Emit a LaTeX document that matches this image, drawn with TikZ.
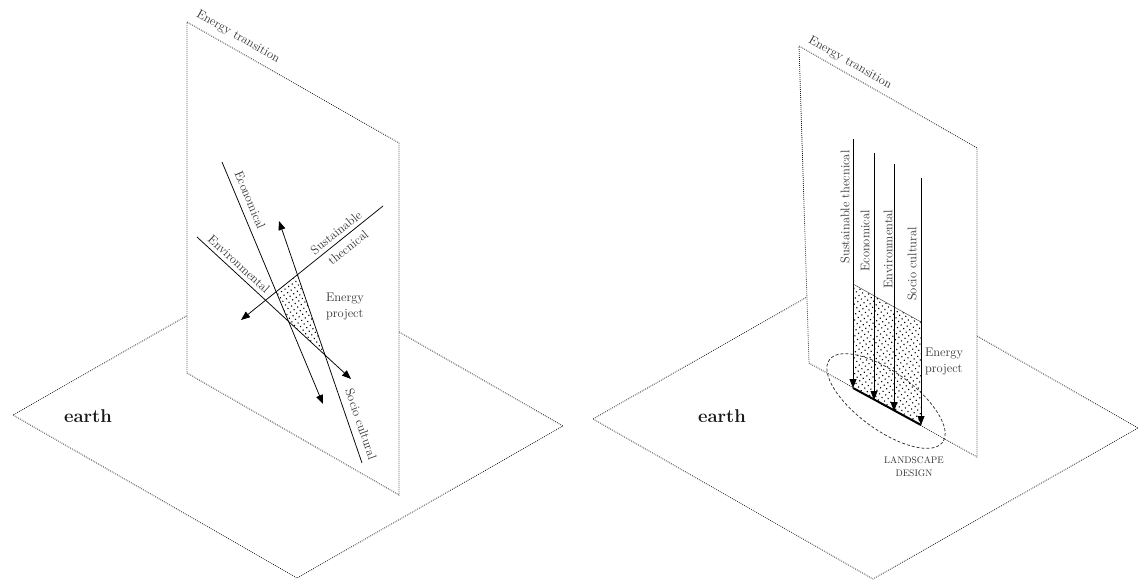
\documentclass[tikz,border=0pt]{standalone}
\usetikzlibrary{arrows.meta,patterns.meta}
\begin{document}
\begin{tikzpicture}[x=1pt,y=-1pt,
  dotline/.style={draw=black!90, line width=0.8pt, dash pattern=on 0.8pt off 1.2pt},
  axline/.style={draw=black, line width=0.75pt},
  arr/.style={axline, -{Triangle[length=9pt,width=7pt]}},
  lbl/.style={font=\fontsize{12.5}{16}\selectfont, text=black!80, inner sep=1pt},
  earthlbl/.style={font=\fontsize{18.5}{20}\selectfont\bfseries, text=black!90, inner sep=0pt},
  dotfill/.style={pattern={Dots[radius=0.8pt,distance=4.4pt,angle=35]}, pattern color=black},
]
\useasboundingbox (0,0) rectangle (1139,580);

% ===== LEFT DIAGRAM =====
\coordinate (gl1) at (13,415);
\coordinate (gl2) at (297,578);
\coordinate (gl3) at (563,426);
\coordinate (gl4) at (279,263);
\draw[dotline] (gl1) -- (gl2) -- (gl3) -- (gl4) -- cycle;

\coordinate (pl1) at (187,22);
\coordinate (pl2) at (399,143);
\coordinate (pl3) at (399,495);
\coordinate (pl4) at (187,373);
\draw[dotline, fill=white] (pl1) -- (pl2) -- (pl3) -- (pl4) -- cycle;

\node[lbl, rotate=-29.7] (etl) at (238,37) {Energy transition};
\node[earthlbl] (earthl) at (88,416) {earth};

\coordinate (e1) at (222,162); \coordinate (e2) at (323,404);
\coordinate (s1) at (362,463); \coordinate (s2) at (279,221);
\coordinate (t1) at (383,206); \coordinate (t2) at (241,320);
\coordinate (v1) at (197,237); \coordinate (v2) at (351,379);

\coordinate (q1) at (intersection of e1--e2 and t1--t2);
\coordinate (q2) at (intersection of s1--s2 and t1--t2);
\coordinate (q3) at (intersection of s1--s2 and v1--v2);
\coordinate (q4) at (intersection of e1--e2 and v1--v2);
\fill[dotfill] (q1) -- (q2) -- (q3) -- (q4) -- cycle;

\draw[arr] (e1) -- (e2);
\draw[arr] (s1) -- (s2);
\draw[arr] (t1) -- (t2);
\draw[arr] (v1) -- (v2);

\node[lbl, rotate=-67.4] (econl) at (250,200) {Economical};
\node[lbl, rotate=-71.1] (socl) at (361,424) {Socio cultural};
\node[lbl, rotate=-42.7] (envl) at (239,264) {Environmental};
\node[lbl, rotate=38.8, align=center, font=\fontsize{12.5}{19}\selectfont] (susl) at (342,240) {Sustainable\\thecnical};
\node[lbl, align=left] (epl) at (345,307) {Energy\\project};

% ===== RIGHT DIAGRAM =====
\coordinate (gr1) at (593,419);
\coordinate (gr2) at (873,579);
\coordinate (gr3) at (1138,428);
\coordinate (gr4) at (858,268);
\draw[dotline] (gr1) -- (gr2) -- (gr3) -- (gr4) -- cycle;

\coordinate (pr1) at (799,46);
\coordinate (pr2) at (977,148);
\coordinate (pr3) at (977,457);
\coordinate (pr4) at (809,363);
\draw[dotline, fill=white] (pr1) -- (pr2) -- (pr3) -- (pr4) -- cycle;

\node[lbl, rotate=-29.8] (etr) at (850,63) {Energy transition};
\node[earthlbl] (earthr) at (722,416) {earth};

\coordinate (h1) at (853,284);
\coordinate (h2) at (921,322);
\coordinate (r1t) at (853,139); \coordinate (r1b) at (853,388);
\coordinate (r2t) at (874,153); \coordinate (r2b) at (874,400);
\coordinate (r3t) at (894,164); \coordinate (r3b) at (894,411);
\coordinate (r4t) at (921,178); \coordinate (r4b) at (921,425);

\fill[dotfill] (h1) -- (h2) -- (r4b) -- (r1b) -- cycle;
\draw[black!70, line width=0.5pt] (h1) -- (h2);

\coordinate (ec) at (886,401);
\draw[black!80, line width=0.75pt, dash pattern=on 3pt off 2pt, rotate around={-36:(ec)}] (ec) ellipse (70 and 29);

\draw[arr] (r1t) -- (r1b);
\draw[arr] (r2t) -- (r2b);
\draw[arr] (r3t) -- (r3b);
\draw[arr] (r4t) -- (r4b);
\draw[black, line width=2pt] (r1b) -- (r4b);

\node[lbl, rotate=90] (susr) at (845,207) {Sustainable thecnical};
\node[lbl, rotate=90] (econr) at (865,241) {Economical};
\node[lbl, rotate=90] (envr) at (888,249) {Environmental};
\node[lbl, rotate=90] (socr) at (912,264) {Socio cultural};
\node[lbl, align=left] (epr) at (944,362) {Energy\\project};
\node[lbl, align=center, font=\fontsize{9.5}{13}\selectfont] (ld) at (914,467) {LANDSCAPE\\DESIGN};

\end{tikzpicture}
\end{document}
